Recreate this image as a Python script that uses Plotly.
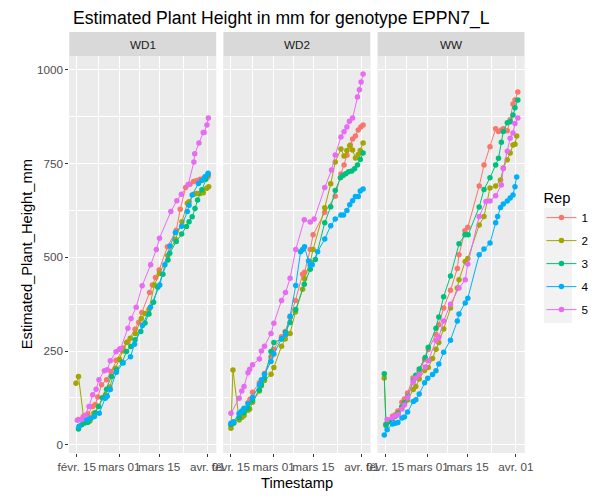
import pandas as pd
import plotly.graph_objects as go

# day offsets from 2020-02-15 and estimated height (mm)
BASE = pd.Timestamp("2020-02-15")
facets = ["WD1", "WD2", "WW"]
reps = ["1", "2", "3", "4", "5"]
rep_colors = ["#F8766D", "#A3A500", "#00BF7D", "#00B0F6", "#E76BF3"]

tick_dates = ["2020-02-15", "2020-03-01", "2020-03-15", "2020-04-01"]
tick_labels = ["févr. 15", "mars 01", "mars 15", "avr. 01"]
minor_dates = ["2020-02-22 12:00", "2020-03-08", "2020-03-23 12:00"]
y_ticks = [0, 250, 500, 750, 1000]
y_minor = [125, 375, 625, 875]

# WD1
wd1_r1_day = [0.6, 2.3, 3.9, 5.6, 6.5, 7.4, 8.7, 10.5, 12.0, 13.8, 16.3, 18.0, 20.5, 21.8, 22.9, 25.6,
              26.6, 27.7, 29.0, 31.9, 35.0, 36.4, 38.3, 39.8, 41.1, 42.2, 43.4, 44.5, 45.3, 46.2]
wd1_r1_mm = [67, 75, 82, 102, 107, 127, 160, 173, 195, 225, 258, 275, 308, 327, 353, 406,
             426, 446, 466, 528, 572, 628, 686, 695, 702, 705, 708, 710, 712, 715]
wd1_r2_day = [-0.3, 0.6, 2.6, 3.7, 4.6, 6.0, 7.6, 10.1, 11.6, 13.6, 15.0, 16.3, 17.5, 18.8, 20.6, 22.7,
              24.0, 25.4, 27.3, 29.1, 32.0, 34.7, 37.0, 38.9, 39.5, 41.2, 42.3, 43.4, 44.5, 45.7, 46.4]
wd1_r2_mm = [164, 182, 60, 60, 63, 84, 102, 133, 154, 204, 228, 250, 273, 284, 297, 337,
             350, 361, 426, 457, 505, 548, 595, 644, 648, 668, 670, 670, 672, 684, 688]
wd1_r3_day = [0.6, 1.7, 2.8, 3.9, 5.1, 6.5, 7.7, 9.0, 10.5, 12.2, 14.0, 16.0, 17.5, 19.0, 20.5, 22.5, 24.0,
              25.4, 27.0, 28.5, 30.3, 32.1, 32.7, 35.0, 36.9, 38.6, 39.5, 40.6, 41.6, 42.5, 44.0, 45.4, 46.2]
wd1_r3_mm = [42, 53, 58, 60, 71, 85, 102, 125, 148, 182, 200, 220, 249, 262, 280, 302, 325,
             349, 380, 420, 455, 493, 511, 542, 562, 582, 595, 608, 630, 653, 680, 708, 721]
wd1_r4_day = [0.8, 2.3, 3.5, 4.8, 6.2, 7.9, 10.0, 10.7, 11.8, 13.9, 16.3, 18.9, 20.3, 23.1, 25.9, 29.2,
              31.0, 32.8, 34.7, 36.9, 38.9, 39.5, 40.6, 42.8, 44.0, 45.1, 46.2]
wd1_r4_mm = [49, 67, 68, 70, 75, 84, 124, 129, 147, 193, 218, 235, 268, 318, 367, 426,
             480, 530, 566, 583, 622, 639, 666, 697, 705, 715, 724]
wd1_r5_day = [0.2, 1.7, 2.8, 4.3, 5.6, 6.8, 7.8, 9.7, 10.7, 11.8, 13.8, 15.0, 15.4, 18.0, 19.1, 20.9,
              23.0, 26.0, 28.0, 29.1, 33.1, 35.2, 36.8, 39.2, 41.2, 41.5, 43.0, 44.5, 44.8, 45.8, 46.3]
wd1_r5_mm = [65, 68, 78, 102, 133, 148, 173, 197, 200, 224, 248, 255, 256, 311, 337, 367,
             424, 480, 521, 551, 622, 651, 668, 694, 754, 776, 805, 833, 833, 853, 872]

# WD2
wd2_r1_day = [0.0, 1.0, 2.9, 4.6, 6.0, 6.7, 7.6, 10.0, 11.8, 14.1, 15.1, 17.8, 19.1, 20.8, 22.7, 25.2,
              25.9, 27.9, 28.9, 33.0, 36.7, 38.7, 39.8, 40.8, 42.0, 42.8, 43.8, 44.8, 45.7, 46.5]
wd2_r1_mm = [52, 58, 80, 95, 112, 121, 140, 165, 190, 235, 255, 288, 302, 340, 385, 455,
             460, 521, 560, 620, 663, 722, 746, 772, 800, 816, 824, 840, 848, 853]
wd2_r2_day = [0.0, 0.7, 2.9, 3.9, 4.6, 6.0, 6.6, 7.6, 10.0, 10.7, 11.8, 14.1, 15.1, 17.8, 19.1, 20.8, 22.7,
              25.2, 25.9, 27.9, 28.9, 33.0, 35.1, 36.7, 38.7, 39.8, 40.8, 41.8, 42.8, 43.8, 44.8, 45.5, 46.5]
wd2_r2_mm = [44, 199, 66, 73, 78, 92, 95, 113, 143, 157, 171, 188, 206, 263, 282, 297, 354,
             415, 443, 488, 521, 632, 696, 754, 789, 770, 785, 798, 786, 765, 774, 785, 805]
wd2_r3_day = [0.0, 1.0, 2.9, 4.6, 6.0, 7.6, 10.0, 10.7, 11.8, 14.1, 15.1, 17.8, 19.2, 20.8, 22.8, 25.8,
              27.9, 29.7, 33.0, 35.1, 36.7, 38.5, 39.4, 40.4, 41.4, 42.5, 43.5, 44.5, 45.5, 46.5]
wd2_r3_mm = [54, 58, 72, 85, 97, 118, 146, 160, 177, 249, 273, 282, 300, 326, 361, 428,
             468, 494, 592, 635, 678, 712, 718, 723, 728, 730, 736, 746, 761, 778]
wd2_r4_day = [0.0, 0.9, 2.9, 3.8, 4.6, 6.0, 7.6, 10.0, 10.7, 11.8, 14.1, 15.1, 17.8, 19.2, 20.8, 22.8,
              24.5, 25.2, 25.9, 27.3, 27.9, 28.6, 30.5, 33.0, 35.1, 36.7, 38.7, 39.6, 40.8, 41.8, 42.8,
              43.8, 44.8, 45.5, 46.5]
wd2_r4_mm = [57, 61, 84, 90, 97, 109, 126, 160, 173, 188, 222, 242, 283, 294, 343, 425,
             515, 521, 528, 490, 479, 480, 515, 549, 584, 602, 613, 613, 625, 640, 651,
             662, 662, 677, 682]
wd2_r5_day = [0.0, 2.9, 3.8, 4.6, 6.0, 6.6, 7.6, 10.0, 10.7, 11.8, 14.1, 15.1, 17.8, 19.2, 20.8, 22.8,
              25.8, 27.9, 29.3, 33.0, 35.4, 36.7, 38.7, 39.8, 40.8, 41.7, 42.8, 44.5, 45.2, 45.8, 46.5]
wd2_r5_mm = [84, 124, 143, 155, 192, 201, 213, 229, 250, 263, 297, 324, 385, 406, 444, 521,
             600, 594, 602, 686, 733, 773, 821, 835, 848, 863, 872, 928, 947, 968, 989]

# WW
ww_r1_day = [0.3, 1.5, 2.6, 3.6, 4.5, 5.9, 6.8, 7.9, 9.8, 12.0, 13.9, 15.2, 17.9, 18.9, 20.6, 23.0,
             25.4, 26.0, 28.1, 29.1, 33.1, 34.8, 36.9, 38.9, 39.9, 40.9, 41.6, 43.0, 44.0, 45.0, 45.7, 46.7]
ww_r1_mm = [55, 65, 76, 80, 90, 113, 122, 138, 178, 195, 227, 254, 294, 320, 365, 412,
            470, 507, 571, 580, 690, 746, 795, 843, 836, 840, 843, 838, 867, 909, 920, 941]
ww_r2_day = [-0.3, 0.3, 2.6, 3.6, 4.5, 5.9, 6.8, 7.9, 9.9, 10.8, 12.0, 13.9, 15.2, 16.7, 17.9, 18.9, 20.6,
             23.0, 25.4, 26.0, 28.2, 29.1, 33.1, 34.8, 36.9, 38.9, 40.6, 41.6, 43.0, 44.0, 45.0, 45.7, 46.3]
ww_r2_mm = [178, 51, 70, 78, 85, 102, 110, 119, 147, 155, 175, 198, 206, 230, 255, 273, 309,
            365, 418, 440, 489, 497, 586, 609, 685, 690, 706, 738, 760, 778, 800, 802, 824]
ww_r3_day = [-0.3, 0.3, 1.5, 2.6, 3.6, 4.5, 5.9, 6.8, 7.9, 9.9, 10.8, 12.0, 14.1, 15.2, 17.9, 18.9, 20.6,
             23.0, 26.0, 28.1, 29.2, 33.1, 34.8, 36.9, 38.9, 39.9, 40.9, 41.6, 43.0, 44.0, 45.0, 45.7, 46.7]
ww_r3_mm = [189, 53, 62, 70, 76, 82, 100, 112, 128, 170, 185, 202, 233, 260, 311, 341, 395,
            450, 536, 560, 560, 634, 681, 712, 746, 764, 807, 836, 859, 862, 880, 899, 920]
ww_r4_day = [-0.3, 0.7, 2.6, 3.6, 4.5, 5.9, 6.8, 7.9, 9.9, 10.8, 12.0, 13.9, 15.0, 16.7, 17.9, 18.9, 20.6,
             23.0, 25.4, 26.0, 28.2, 29.1, 33.1, 34.8, 36.9, 38.9, 39.6, 40.6, 41.6, 43.0, 44.0, 45.0,
             45.7, 46.3]
ww_r4_mm = [26, 40, 55, 57, 59, 71, 74, 87, 115, 120, 135, 165, 177, 187, 197, 215, 247,
            279, 330, 349, 378, 391, 507, 522, 538, 592, 609, 633, 642, 650, 658, 666,
            688, 714]
ww_r5_day = [0.7, 2.6, 3.6, 4.5, 5.9, 6.8, 7.9, 9.9, 10.8, 12.0, 14.1, 15.2, 17.9, 18.9, 20.6, 23.0,
             26.0, 28.2, 29.1, 33.1, 35.5, 36.9, 38.9, 40.9, 41.6, 43.0, 44.0, 45.0, 45.7, 46.7]
ww_r5_mm = [67, 72, 77, 80, 95, 106, 126, 167, 178, 187, 207, 224, 278, 287, 330, 375,
            418, 440, 482, 609, 649, 650, 664, 693, 737, 783, 818, 832, 857, 872]

series = {
    "WD1": [(wd1_r1_day, wd1_r1_mm), (wd1_r2_day, wd1_r2_mm), (wd1_r3_day, wd1_r3_mm),
            (wd1_r4_day, wd1_r4_mm), (wd1_r5_day, wd1_r5_mm)],
    "WD2": [(wd2_r1_day, wd2_r1_mm), (wd2_r2_day, wd2_r2_mm), (wd2_r3_day, wd2_r3_mm),
            (wd2_r4_day, wd2_r4_mm), (wd2_r5_day, wd2_r5_mm)],
    "WW": [(ww_r1_day, ww_r1_mm), (ww_r2_day, ww_r2_mm), (ww_r3_day, ww_r3_mm),
           (ww_r4_day, ww_r4_mm), (ww_r5_day, ww_r5_mm)],
}

# the page body has an 8px margin, so the figure is laid out in page pixels minus that
OFF = 8
W, H = 606 - OFF, 498 - OFF
FONT = "Liberation Sans, Arial, sans-serif"

def px_x(p):
    return (p - OFF) / W

def px_y(p):
    return 1 - (p - OFF) / H

panel_left = [60, 219.5, 379]
panel_w = 152
panel_top, panel_bottom = 56, 453
strip_top = 32

fig = go.Figure()

all_days = [d for f in facets for s in series[f] for d in s[0]]
all_mm = [v for f in facets for s in series[f] for v in s[1]]
dspan = max(all_days) - min(all_days)
x_lo = BASE + pd.Timedelta(days=min(all_days) - 0.05 * dspan)
x_hi = BASE + pd.Timedelta(days=max(all_days) + 0.05 * dspan)
yspan = max(all_mm) - min(all_mm)
y_range = [min(all_mm) - 0.05 * yspan, max(all_mm) + 0.05 * yspan]

for i, facet in enumerate(facets):
    xa = "x" if i == 0 else f"x{i + 1}"
    ya = "y" if i == 0 else f"y{i + 1}"
    for j, (days, mm) in enumerate(series[facet]):
        ts = [BASE + pd.Timedelta(hours=d * 24) for d in days]
        fig.add_trace(go.Scatter(
            x=ts, y=mm, mode="lines+markers",
            line=dict(color=rep_colors[j], width=1),
            marker=dict(color=rep_colors[j], size=5.5),
            name=reps[j], legendgroup=reps[j], showlegend=(i == 0),
            xaxis=xa, yaxis=ya,
        ))

    axis_common = dict(
        showgrid=True, gridcolor="white", gridwidth=1.1,
        zeroline=False, showline=False,
        ticks="outside", ticklen=3, tickcolor="#333333", tickwidth=1,
        tickfont=dict(family=FONT, size=11.7, color="#4D4D4D"),
    )
    left = panel_left[i]
    fig.layout[("xaxis" if i == 0 else f"xaxis{i + 1}")] = dict(
        axis_common,
        type="date", range=[x_lo, x_hi],
        domain=[px_x(left), px_x(left + panel_w)],
        anchor=ya, tickangle=0,
        tickmode="array", tickvals=tick_dates, ticktext=tick_labels,
        minor=dict(tickmode="array", tickvals=minor_dates, showgrid=True,
                   gridcolor="white", gridwidth=0.5, ticks=""),
    )
    fig.layout[("yaxis" if i == 0 else f"yaxis{i + 1}")] = dict(
        axis_common,
        range=y_range,
        domain=[px_y(panel_bottom), px_y(panel_top)],
        anchor=xa,
        tickmode="array", tickvals=y_ticks,
        showticklabels=(i == 0),
        ticks="outside" if i == 0 else "",
        minor=dict(tickmode="array", tickvals=y_minor, showgrid=True,
                   gridcolor="white", gridwidth=0.5, ticks=""),
    )

    # panel background and facet strip
    fig.add_shape(type="rect", xref="paper", yref="paper", layer="below",
                  x0=px_x(left), x1=px_x(left + panel_w),
                  y0=px_y(panel_bottom), y1=px_y(panel_top),
                  fillcolor="#EBEBEB", line=dict(width=0))
    fig.add_shape(type="rect", xref="paper", yref="paper",
                  x0=px_x(left), x1=px_x(left + panel_w),
                  y0=px_y(panel_top), y1=px_y(strip_top),
                  fillcolor="#D9D9D9", line=dict(width=0))
    fig.add_annotation(x=px_x(left + panel_w / 2), y=px_y((strip_top + panel_top) / 2),
                       xref="paper", yref="paper", text=facet, showarrow=False,
                       font=dict(family=FONT, size=11.7, color="#1A1A1A"),
                       xanchor="center", yanchor="middle")

# legend key background
fig.add_shape(type="rect", xref="paper", yref="paper", layer="below",
              x0=px_x(551), x1=px_x(580), y0=px_y(323), y1=px_y(208),
              fillcolor="#F2F2F2", line=dict(width=0))

fig.add_annotation(x=px_x(62), y=px_y(18), xref="paper", yref="paper",
                   text="Estimated Plant Height in mm for genotype EPPN7_L", showarrow=False,
                   font=dict(family=FONT, size=17.6, color="black"),
                   xanchor="left", yanchor="middle")
fig.add_annotation(x=px_x((panel_left[0] + panel_left[2] + panel_w) / 2), y=px_y(483),
                   xref="paper", yref="paper", text="Timestamp", showarrow=False,
                   font=dict(family=FONT, size=14.7, color="black"),
                   xanchor="center", yanchor="middle")
fig.add_annotation(x=px_x(16), y=px_y((panel_top + panel_bottom) / 2),
                   xref="paper", yref="paper", text="Estimated_Plant_Height_mm", showarrow=False,
                   textangle=-90, font=dict(family=FONT, size=14.7, color="black"),
                   xanchor="center", yanchor="middle")

fig.update_layout(
    width=W, height=H,
    margin=dict(l=0, r=0, t=0, b=0),
    paper_bgcolor="white", plot_bgcolor="#EBEBEB",
    font=dict(family=FONT),
    legend=dict(
        title=dict(text="Rep", font=dict(family=FONT, size=14.7, color="black")),
        font=dict(family=FONT, size=11.7, color="black"),
        x=px_x(548.5), y=px_y(184), xanchor="left", yanchor="top",
        bgcolor="rgba(0,0,0,0)", itemwidth=30, tracegroupgap=4,
    ),
)

fig.write_html("out.html")
